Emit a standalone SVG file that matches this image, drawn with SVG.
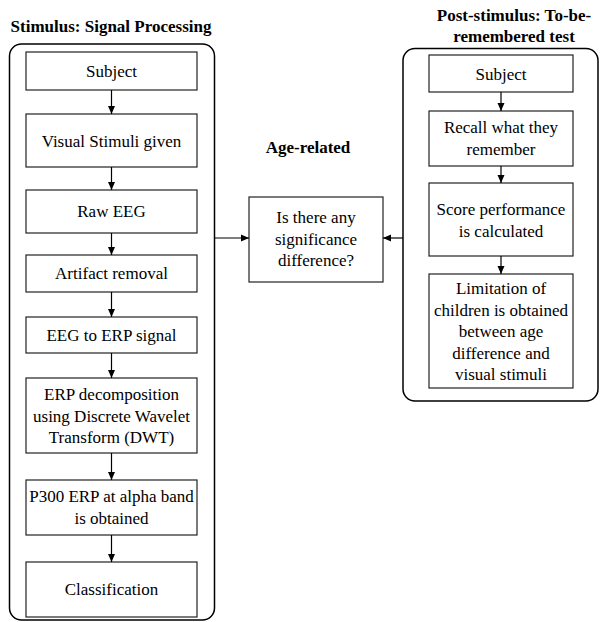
<svg xmlns="http://www.w3.org/2000/svg" width="600" height="622" viewBox="0 0 600 622">
<style>
.box{fill:#fff;stroke:#222;stroke-width:1.2}
.cont{fill:none;stroke:#000;stroke-width:1.5}
.c{stroke:#000;stroke-width:1.2;fill:none;marker-end:url(#ah)}
</style>
<defs>
<marker id="ah" markerWidth="8" markerHeight="8" refX="8" refY="4" orient="auto" markerUnits="userSpaceOnUse">
<path d="M0,0.5 L8,4 L0,7.5 Z" fill="#000"/>
</marker>
</defs>
<g font-family="Liberation Serif" font-size="17" text-anchor="middle" fill="#000">
<g id="left-group">
<text font-weight="bold" x="111" y="32">Stimulus: Signal Processing</text>
<rect class="cont" x="9.5" y="44" width="205" height="576" rx="12"/>
</g>
<g id="right-group">
<text font-weight="bold" x="514" y="20.5">Post-stimulus: To-be-</text>
<text font-weight="bold" x="514" y="42">remembered test</text>
<rect class="cont" x="403" y="48.5" width="195" height="352.5" rx="12"/>
</g>
<g id="age-label"><text font-weight="bold" x="308" y="153">Age-related</text></g>
<g id="l1"><rect class="box" x="26" y="52" width="171" height="38"/><text x="111.5" y="77">Subject</text></g>
<g id="l2"><rect class="box" x="26" y="114" width="171" height="53"/><text x="111.5" y="146.5">Visual Stimuli given</text></g>
<g id="l3"><rect class="box" x="26" y="190" width="171" height="43"/><text x="111.5" y="217">Raw EEG</text></g>
<g id="l4"><rect class="box" x="26" y="255" width="171" height="37"/><text x="111.5" y="279">Artifact removal</text></g>
<g id="l5"><rect class="box" x="26" y="317" width="171" height="36"/><text x="111.5" y="340.5">EEG to ERP signal</text></g>
<g id="l6"><rect class="box" x="26" y="378" width="171" height="75"/><text x="111.5" y="400">ERP decomposition</text><text x="111.5" y="421.5">using Discrete Wavelet</text><text x="111.5" y="443">Transform (DWT)</text></g>
<g id="l7"><rect class="box" x="26" y="480" width="171" height="55"/><text x="111.5" y="502">P300 ERP at alpha band</text><text x="111.5" y="523.5">is obtained</text></g>
<g id="l8"><rect class="box" x="26" y="562" width="171" height="55"/><text x="111.5" y="595">Classification</text></g>
<g id="mid"><rect class="box" x="249" y="197" width="134" height="85"/><text x="316" y="223">Is there any</text><text x="316" y="244.5">significance</text><text x="316" y="266">difference?</text></g>
<g id="r1"><rect class="box" x="429" y="55" width="144" height="37"/><text x="501" y="80">Subject</text></g>
<g id="r2"><rect class="box" x="429" y="111" width="144" height="55"/><text x="501" y="133">Recall what they</text><text x="501" y="154.5">remember</text></g>
<g id="r3"><rect class="box" x="429" y="183" width="144" height="73"/><text x="501" y="215">Score performance</text><text x="501" y="236.5">is calculated</text></g>
<g id="r4"><rect class="box" x="429" y="274" width="144" height="114"/><text x="501" y="294">Limitation of</text><text x="501" y="315.5">children is obtained</text><text x="501" y="337">between age</text><text x="501" y="358.5">difference and</text><text x="501" y="380">visual stimuli</text></g>
</g>
<g id="connectors">
<line class="c" x1="111.5" y1="90" x2="111.5" y2="114"/>
<line class="c" x1="111.5" y1="167" x2="111.5" y2="190"/>
<line class="c" x1="111.5" y1="233" x2="111.5" y2="255"/>
<line class="c" x1="111.5" y1="292" x2="111.5" y2="317"/>
<line class="c" x1="111.5" y1="353" x2="111.5" y2="378"/>
<line class="c" x1="111.5" y1="453" x2="111.5" y2="480"/>
<line class="c" x1="111.5" y1="535" x2="111.5" y2="562"/>
<line class="c" x1="501" y1="92" x2="501" y2="111"/>
<line class="c" x1="501" y1="166" x2="501" y2="183"/>
<line class="c" x1="501" y1="256" x2="501" y2="274"/>
<line class="c" x1="214.5" y1="238" x2="249" y2="238"/>
<line class="c" x1="403" y1="238" x2="383" y2="238"/>
</g>
</svg>
